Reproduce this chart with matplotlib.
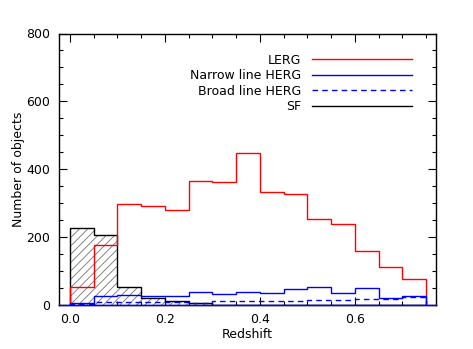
import numpy as np
import matplotlib
matplotlib.use("Agg")
import matplotlib.pyplot as plt
from matplotlib.ticker import MultipleLocator, FormatStrFormatter
from matplotlib.lines import Line2D

# Bin edges (redshift), width 0.05
bin_edges = [0.0, 0.05, 0.10, 0.15, 0.20, 0.25, 0.30, 0.35, 0.40,
             0.45, 0.50, 0.55, 0.60, 0.65, 0.70, 0.75]

lerg = [52, 177, 298, 293, 280, 366, 363, 447, 333, 327, 254, 238, 158, 113, 76]
nl_herg = [7, 26, 29, 27, 26, 39, 33, 39, 34, 47, 52, 35, 50, 21, 27]
bl_herg = [3, 8, 8, 8, 8, 6, 12, 12, 12, 12, 15, 15, 18, 19, 23]
sf = [227, 207, 54, 21, 12, 5, 1, 0, 0, 0, 0, 0, 0, 0, 0]

labels = ["LERG", "Narrow line HERG", "Broad line HERG", "SF"]

plt.rcParams['font.family'] = ['DejaVu Sans']
plt.rcParams['hatch.linewidth'] = 0.6

fig = plt.figure(figsize=(4.73, 3.49), dpi=100)
ax = fig.add_axes([58.5 / 473, 1 - 305 / 349, (436 - 58.5) / 473, (305 - 33.5) / 349])

edges = np.array(bin_edges)

# SF hatched fill
ax.stairs(sf, edges, fill=True, facecolor='none', edgecolor='0.45',
          hatch='////', linewidth=0, zorder=1)
ax.stairs(sf, edges, color='black', linewidth=1.0, zorder=3)

ax.stairs(lerg, edges, color='red', linewidth=1.0, zorder=4)
ax.stairs(nl_herg, edges, color='blue', linewidth=1.0, zorder=4)
ax.stairs(bl_herg, edges, color='blue', linewidth=1.0, linestyle=(0, (4, 3)),
          zorder=4)
ax.axhline(0, color='blue', linewidth=1.0, zorder=5, clip_on=False)

ax.set_xlim(-0.024, 0.771)
ax.set_ylim(0, 800)

ax.xaxis.set_major_locator(MultipleLocator(0.2))
ax.xaxis.set_minor_locator(MultipleLocator(0.05))
ax.yaxis.set_major_locator(MultipleLocator(200))
ax.yaxis.set_minor_locator(MultipleLocator(50))
ax.xaxis.set_major_formatter(FormatStrFormatter('%.1f'))
ax.tick_params(which='both', direction='in', top=True, right=True,
               labelsize=9, width=0.8)
ax.tick_params(which='major', length=6)
ax.tick_params(axis='x', which='major', pad=6)
ax.tick_params(axis='y', which='major', pad=6)
ax.tick_params(which='minor', length=3)
for s in ax.spines.values():
    s.set_linewidth(1.0)

ax.set_xlabel("Redshift", fontsize=9, labelpad=1)
ax.set_ylabel("Number of objects", fontsize=9, labelpad=1)

legend_handles = [
    Line2D([], [], color='red', linewidth=1.0),
    Line2D([], [], color='blue', linewidth=1.0),
    Line2D([], [], color='blue', linewidth=1.0, linestyle=(0, (4, 3))),
    Line2D([], [], color='black', linewidth=1.0),
]
leg = ax.legend(legend_handles, labels, loc='upper right', frameon=False,
                markerfirst=False, fontsize=9, handlelength=8.0,
                handletextpad=0.9, labelspacing=0.2,
                bbox_to_anchor=(0.967, 0.967))

fig.savefig("out.png", dpi=100)
